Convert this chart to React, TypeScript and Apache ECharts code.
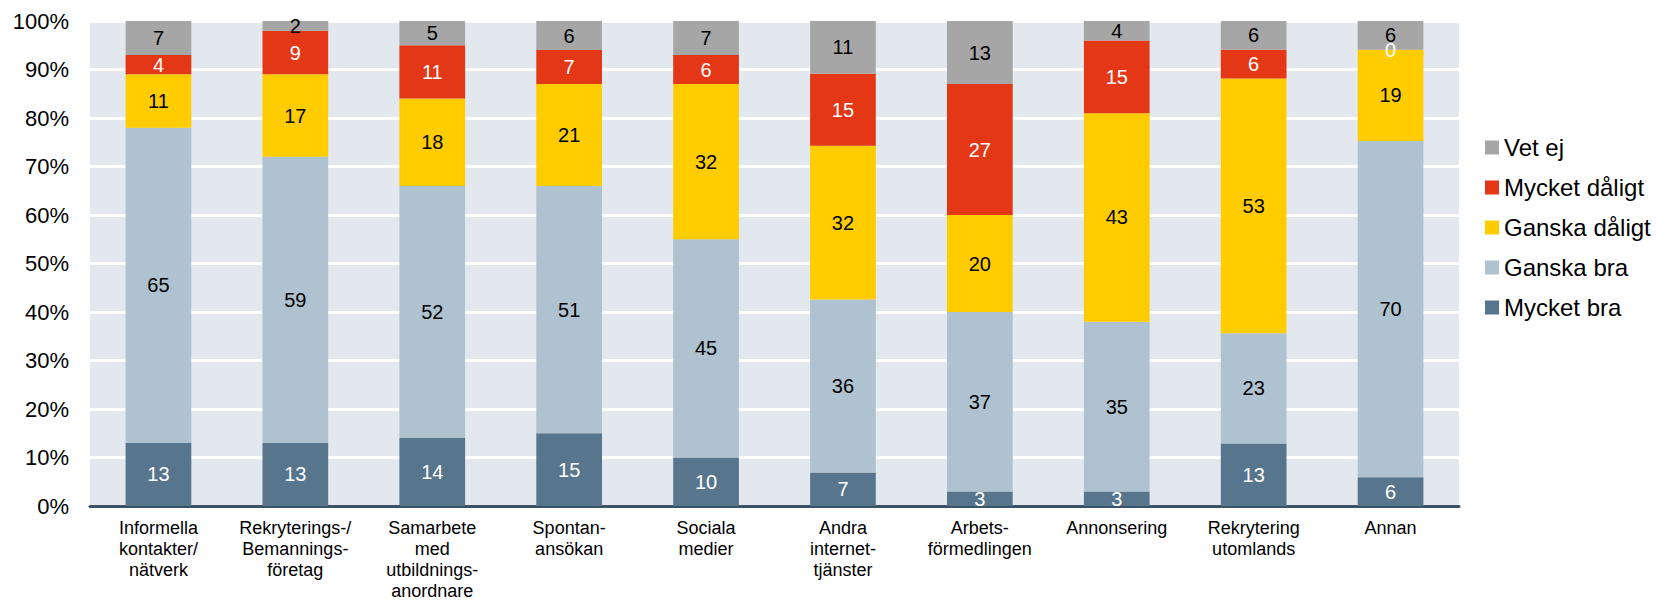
import React, { useEffect, useRef } from "react";
import * as echarts from "echarts";

const categories = [
  "Informella\nkontakter/\nnätverk",
  "Rekryterings-/\nBemannings-\nföretag",
  "Samarbete\nmed\nutbildnings-\nanordnare",
  "Spontan-\nansökan",
  "Sociala\nmedier",
  "Andra\ninternet-\ntjänster",
  "Arbets-\nförmedlingen",
  "Annonsering",
  "Rekrytering\nutomlands",
  "Annan",
];

const mycketBra = [13, 13, 14, 15, 10, 7, 3, 3, 13, 6];
const ganskaBra = [65, 59, 52, 51, 45, 36, 37, 35, 23, 70];
const ganskaDaligt = [11, 17, 18, 21, 32, 32, 20, 43, 53, 19];
const mycketDaligt = [4, 9, 11, 7, 6, 15, 27, 15, 6, 0];
const vetEj = [7, 2, 5, 6, 7, 11, 13, 4, 6, 6];

const yTicks = ["0%", "10%", "20%", "30%", "40%", "50%", "60%", "70%", "80%", "90%", "100%"];

const seriesDefs = [
  { name: "Mycket bra", data: mycketBra, color: "#57758c", text: "#ffffff" },
  { name: "Ganska bra", data: ganskaBra, color: "#aec2d0", text: "#000000" },
  { name: "Ganska dåligt", data: ganskaDaligt, color: "#ffcc00", text: "#000000" },
  { name: "Mycket dåligt", data: mycketDaligt, color: "#e33716", text: "#ffffff" },
  { name: "Vet ej", data: vetEj, color: "#a6a6a6", text: "#000000" },
];

const legendOrder = ["Vet ej", "Mycket dåligt", "Ganska dåligt", "Ganska bra", "Mycket bra"];

export default function App() {
  const ref = useRef<HTMLDivElement>(null);
  useEffect(() => {
    document.body.style.margin = "0";
    if (!ref.current) return;
    const chart = echarts.init(ref.current, undefined, { renderer: "svg" });
    const totals = categories.map((_, i) =>
      seriesDefs.reduce((s, d) => s + d.data[i], 0)
    );
    const font = "Liberation Sans, Arial, sans-serif";
    chart.setOption({
      animation: false,
      textStyle: { fontFamily: font },
      grid: {
        left: 90,
        right: 206,
        top: 21,
        bottom: 95,
        outerBoundsMode: "none",
        containLabel: false,
        show: true,
        backgroundColor: "#e3e8ef",
        borderWidth: 0,
      },
      legend: {
        orient: "vertical",
        left: 1480,
        top: 130,
        itemWidth: 14,
        itemHeight: 14,
        itemGap: 15,
        icon: "rect",
        data: legendOrder,
        textStyle: { fontSize: 24, color: "#000", fontFamily: font, lineHeight: 25 },
      },
      xAxis: {
        type: "category",
        data: categories,
        axisLine: { show: true, lineStyle: { color: "#3b5266", width: 3 } },
        axisTick: { show: false },
        axisLabel: {
          fontSize: 18,
          lineHeight: 21,
          color: "#000",
          margin: 11,
          interval: 0,
          fontFamily: font,
        },
      },
      yAxis: {
        type: "value",
        min: 0,
        max: 100,
        interval: 10,
        axisLine: { show: false },
        axisTick: { show: false },
        splitLine: { show: true, lineStyle: { color: "#ffffff", width: 3 } },
        axisLabel: {
          fontSize: 22,
          color: "#000",
          margin: 21,
          fontFamily: font,
          formatter: (v: number) => yTicks[Math.round(v / 10)],
        },
      },
      series: seriesDefs.map((d) => ({
        name: d.name,
        type: "bar",
        stack: "total",
        barWidth: "48%",
        itemStyle: { color: d.color },
        data: d.data.map((v, i) => ({ value: (v / totals[i]) * 100 })),
        label: {
          show: true,
          position: "inside",
          color: d.text,
          fontSize: 20,
          fontFamily: font,
          formatter: (p: any) => String(d.data[p.dataIndex]),
        },
      })),
    });
    return () => chart.dispose();
  }, []);
  return <div ref={ref} style={{ width: 1665, height: 601 }} />;
}
